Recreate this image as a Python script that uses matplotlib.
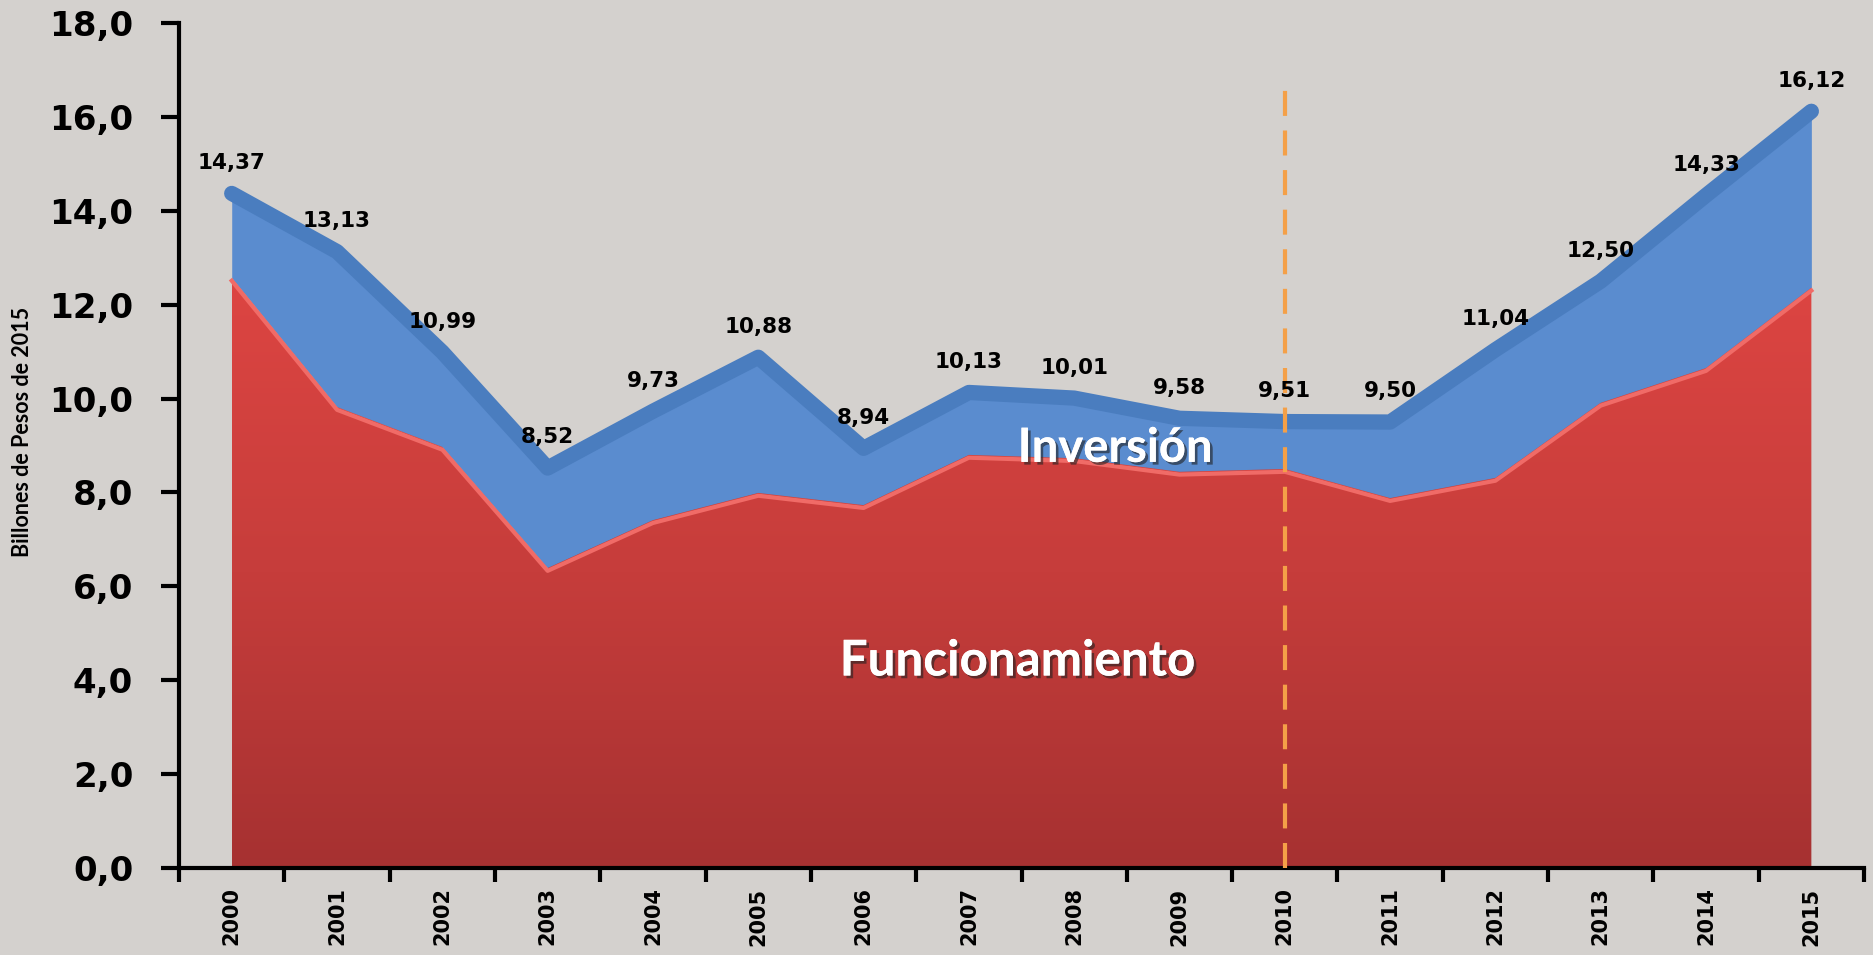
import numpy as np
import matplotlib.pyplot as plt
from matplotlib import patheffects as pe
from matplotlib.colors import LinearSegmentedColormap
from matplotlib.patches import PathPatch

years = [str(y) for y in range(2000, 2016)]
total = [14.37, 13.13, 10.99, 8.52, 9.73, 10.88, 8.94, 10.13, 10.01, 9.58, 9.51, 9.50, 11.04, 12.50, 14.33, 16.12]
funcionamiento = [12.57, 9.82, 8.97, 6.39, 7.41, 7.99, 7.73, 8.80, 8.73, 8.44, 8.50, 7.88, 8.31, 9.91, 10.65, 12.36]
yticks = [0, 2, 4, 6, 8, 10, 12, 14, 16, 18]
corte = 10  # 2010
corte_top = 16.66

x = np.arange(len(years))

fig = plt.figure(figsize=(18.73, 9.55), dpi=100, facecolor='#D4D1CE')
ax = fig.add_axes([0.0956, 0.0911, 0.8996, 0.8848])
ax.set_facecolor('none')

# inversion (blue) on top of funcionamiento
ax.fill_between(x, funcionamiento, total, color='#5A8CCF', lw=0, zorder=2)
ax.plot(x, total, color='#4A7DBF', lw=11, solid_capstyle='round', solid_joinstyle='round', zorder=3)

# funcionamiento (red) with vertical gradient
red = ax.fill_between(x, 0, funcionamiento, color='none', lw=0, zorder=2)
grad = np.linspace(0, 1, 256).reshape(-1, 1)
cmap = LinearSegmentedColormap.from_list('rojo', ['#A63131', '#C63D3B', '#DD4542'])
im = ax.imshow(grad, extent=[0, 15, 0, max(funcionamiento)], origin='lower', cmap=cmap,
               aspect='auto', zorder=2.5)
clip = PathPatch(red.get_paths()[0], transform=ax.transData, facecolor='none', edgecolor='none')
ax.add_patch(clip)
im.set_clip_path(clip)
ax.plot(x, np.array(funcionamiento) - 0.06, color='#F06B67', lw=3, zorder=2.6)

# dashed line 2010
ax.plot([corte, corte], [0, corte_top], color='#F4A048', lw=3, dashes=(6, 3.5), zorder=4)

for i, v in enumerate(total):
    ax.annotate(f"{v:.2f}".replace('.', ','), (i, v), xytext=(0, 22), textcoords='offset points',
                ha='center', va='center', fontsize=15.5, fontweight='bold', color='black', zorder=5)

shadow = [pe.withSimplePatchShadow(offset=(2, -2), shadow_rgbFace='#222222', alpha=0.6), pe.Normal()]
ax.text(8.39, 8.95, 'Inversión', color='white', fontsize=34, family='Lato', fontweight='bold',
        ha='center', va='center', path_effects=shadow, zorder=6)
ax.text(7.46, 4.41, 'Funcionamiento', color='white', fontsize=35.5, family='Lato', fontweight='bold',
        ha='center', va='center', path_effects=shadow, zorder=6)

ax.set_xlim(-0.5, 15.5)
ax.set_ylim(0, 18)
ax.set_yticks(yticks)
ax.set_yticklabels([f"{v:.1f}".replace('.', ',') for v in yticks], fontsize=24.5, fontweight='bold')
ax.tick_params(axis='y', length=13, width=3, pad=20)

ax.set_xticks(x)
ax.set_xticklabels(years, rotation=90, fontsize=15, fontweight='bold')
ax.set_xticks(np.arange(-0.5, 16, 1), minor=True)
ax.tick_params(axis='x', which='major', length=0, pad=14)
ax.tick_params(axis='x', which='minor', length=10, width=3)

for s in ['top', 'right']:
    ax.spines[s].set_visible(False)
for s in ['left', 'bottom']:
    ax.spines[s].set_linewidth(3)

fig.text(0.012, 0.548, 'Billones de Pesos de 2015', rotation=90, ha='center', va='center',
         fontsize=15.5, family='Lato', fontweight='bold')

fig.savefig('out.png', dpi=100, facecolor=fig.get_facecolor())
